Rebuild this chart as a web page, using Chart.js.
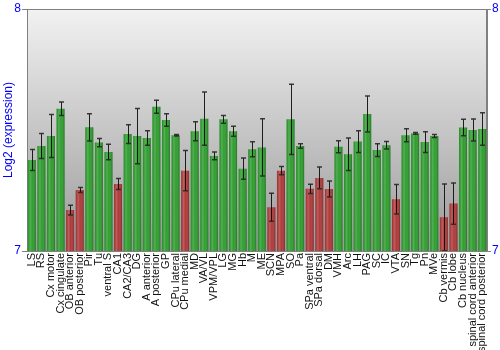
<!DOCTYPE html>
<html>
<head>
<meta charset="utf-8">
<style>
html,body{margin:0;padding:0;background:#fff;}
#wrap{width:500px;height:350px;position:relative;}
</style>
<script src="https://cdn.jsdelivr.net/npm/chart.js@4"></script>
</head>
<body>
<div id="wrap"><canvas id="c" width="500" height="350"></canvas></div>
<script>
const categories = ["LS","RS","Cx motor","Cx cingulate","OB anterior","OB posterior","Pir","Tu","ventral S","CA1","CA2/CA3","DG","A anterior","A posterior","GP","CPu lateral","CPu medial","MD","VA/VL","VPM/VPL","LG","MG","Hb","M","ME","SCN","MPA","SO","Pa","SPa ventral","SPa dorsal","DM","VMH","Arc","LH","PAG","SC","IC","VTA","SN","Tg","Pn","MVe","Cb vermis","Cb lobe","Cb nucleus","spinal cord anterior","spinal cord posterior"];
const values = [7.376,7.434,7.475,7.588,7.169,7.252,7.511,7.448,7.409,7.277,7.483,7.475,7.467,7.596,7.541,7.478,7.332,7.495,7.547,7.393,7.544,7.495,7.340,7.420,7.428,7.181,7.332,7.544,7.434,7.257,7.302,7.256,7.431,7.400,7.452,7.566,7.417,7.437,7.214,7.478,7.486,7.450,7.475,7.139,7.196,7.510,7.500,7.504];
const errors = [0.043,0.052,0.089,0.028,0.020,0.010,0.056,0.017,0.032,0.023,0.039,0.114,0.030,0.027,0.026,0.003,0.083,0.039,0.110,0.016,0.016,0.021,0.044,0.031,0.118,0.058,0.017,0.145,0.009,0.019,0.045,0.033,0.025,0.067,0.045,0.074,0.026,0.015,0.061,0.027,0.004,0.043,0.006,0.138,0.085,0.034,0.045,0.067];
const lowGroup = ["OB anterior","OB posterior","CA1","CPu medial","SCN","MPA","SPa ventral","SPa dorsal","DM","VTA","Cb vermis","Cb lobe"];
const yTicks = [7, 8];

const GREEN = "#2f9f2f", RED = "#b03a3a";
const colors = categories.map(c => lowGroup.includes(c) ? RED : GREEN);

const bgPlugin = {
  id: "bg",
  beforeDatasetsDraw(chart) {
    const {ctx, chartArea: a} = chart;
    ctx.save();
    const g = ctx.createLinearGradient(0, a.top, 0, a.bottom);
    g.addColorStop(0, "#f2f2f2");
    g.addColorStop(1, "#9a9a9a");
    ctx.fillStyle = g;
    ctx.fillRect(a.left, a.top, a.right - a.left, a.bottom - a.top);
    ctx.strokeStyle = "#808080";
    ctx.lineWidth = 1;
    ctx.strokeRect(a.left + 0.5, a.top + 0.5, a.right - a.left - 1, a.bottom - a.top);
    ctx.restore();
  }
};

const shadePlugin = {
  id: "shade",
  afterDatasetsDraw(chart) {
    const {ctx, chartArea: a} = chart;
    const meta = chart.getDatasetMeta(0);
    const y = chart.scales.y;
    ctx.save();
    ctx.beginPath();
    ctx.rect(a.left, a.top - 10, a.right - a.left, a.bottom - a.top + 10);
    ctx.clip();
    meta.data.forEach((bar, i) => {
      const p = bar.getProps(["x","y","base","width"], true);
      const l = p.x - p.width / 2, r = p.x + p.width / 2;
      const bottom = Math.min(p.base, a.bottom);
      const g = ctx.createLinearGradient(l, 0, r, 0);
      g.addColorStop(0, "rgba(0,0,0,0.12)");
      g.addColorStop(0.3, "rgba(255,255,255,0.18)");
      g.addColorStop(0.55, "rgba(255,255,255,0.0)");
      g.addColorStop(1, "rgba(0,0,0,0.28)");
      ctx.fillStyle = g;
      ctx.fillRect(l, p.y, p.width, bottom - p.y);
    });
    // error bars
    meta.data.forEach((bar, i) => {
      const p = bar.getProps(["x"], true);
      const hi = y.getPixelForValue(values[i] + errors[i]);
      const lo = y.getPixelForValue(values[i] - errors[i]);
      const x = Math.round(p.x) + 0.5;
      ctx.strokeStyle = "rgba(0,0,0,0.85)";
      ctx.lineWidth = 1;
      ctx.beginPath();
      ctx.moveTo(x, hi); ctx.lineTo(x, lo);
      ctx.stroke();
      ctx.strokeStyle = "rgba(40,40,40,0.9)";
      ctx.lineWidth = 1.5;
      ctx.beginPath();
      ctx.moveTo(x - 2.5, hi); ctx.lineTo(x + 2.5, hi);
      ctx.moveTo(x - 2.5, lo); ctx.lineTo(x + 2.5, lo);
      ctx.stroke();
    });
    ctx.restore();
  }
};

new Chart(document.getElementById("c"), {
  type: "bar",
  data: {
    labels: categories,
    datasets: [{
      data: values,
      backgroundColor: colors,
      borderWidth: 0,
      barPercentage: 0.84,
      categoryPercentage: 1.0
    }]
  },
  options: {
    responsive: false,
    animation: false,
    layout: {padding: {top: 9, left: 0, right: 0, bottom: 0}},
    plugins: {legend: {display: false}, tooltip: {enabled: false}},
    scales: {
      x: {
        type: "category",
        offset: true,
        grid: {display: false, drawTicks: false},
        border: {display: false},
        ticks: {
          autoSkip: false, minRotation: 90, maxRotation: 90,
          color: "#111", padding: 2,
          font: {family: "Liberation Sans, Arial", size: 11}
        },
        afterFit(s) { s.height = 99; }
      },
      y: {
        position: "left",
        min: 7, max: 8,
        afterBuildTicks(s) { s.ticks = yTicks.map(v => ({value: v})); },
        grid: {drawOnChartArea: false, color: "#808080", tickLength: 5},
        border: {color: "#808080"},
        ticks: {color: "#0000ff", padding: 1, font: {family: "Liberation Sans, Arial", size: 12}},
        title: {display: true, text: "Log2 (expression)", color: "#0000ff", padding: {top: 1, bottom: 2},
                font: {family: "Liberation Sans, Arial", size: 12}},
        afterFit(s) { s.width = 27; }
      },
      y2: {
        position: "right",
        min: 7, max: 8,
        afterBuildTicks(s) { s.ticks = yTicks.map(v => ({value: v})); },
        grid: {drawOnChartArea: false, color: "#808080", tickLength: 4},
        border: {color: "#808080"},
        ticks: {color: "#0000ff", padding: 1, font: {family: "Liberation Sans, Arial", size: 12}},
        afterFit(s) { s.width = 13; }
      }
    }
  },
  plugins: [bgPlugin, shadePlugin]
});
</script>
</body>
</html>
